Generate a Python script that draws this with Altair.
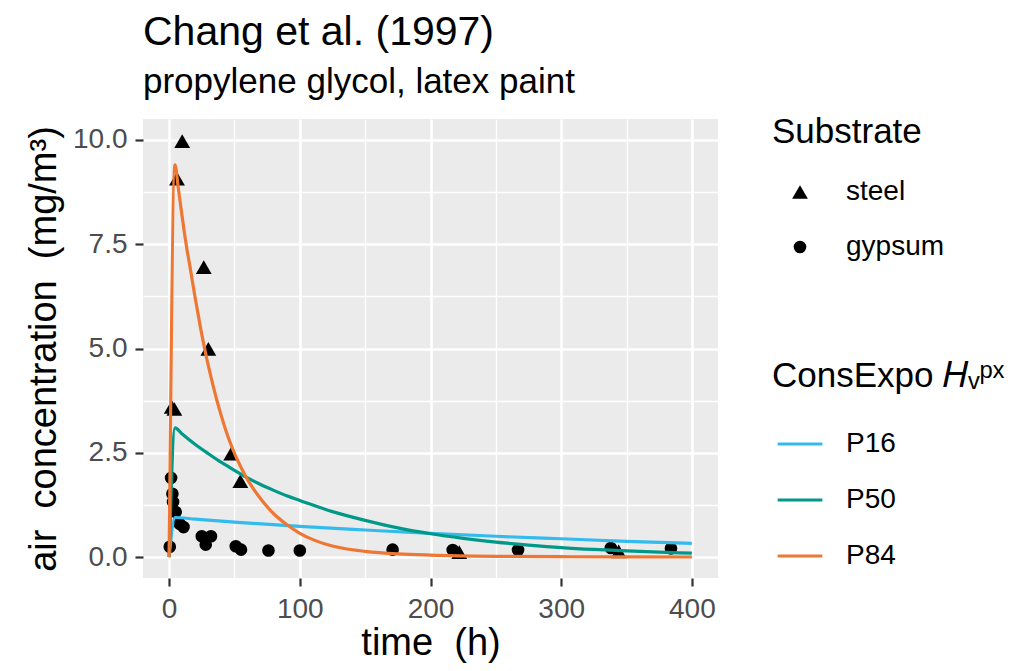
import altair as alt
import pandas as pd

# ---- observations (Chang et al. 1997) ----
steel_t = [2, 4, 6, 10, 26.5, 30, 47.5, 54.5, 222, 344]
steel_c = [3.6, 3.55, 9.07, 9.97, 6.95, 4.99, 2.48, 1.82, 0.12, 0.14]
gypsum_t = [0.5, 1.5, 2.5, 3, 5, 8, 11, 25, 28, 32, 51, 55, 76, 100, 171, 217, 267, 338, 384]
gypsum_c = [0.25, 1.9, 1.52, 1.32, 1.08, 0.8, 0.72, 0.5, 0.3, 0.5, 0.26, 0.18, 0.16, 0.16,
            0.18, 0.17, 0.17, 0.22, 0.21]

# ---- ConsExpo model curves ----
p16_t = [0, 4.5, 20, 50, 100, 150, 200, 250, 300, 350, 400]
p16_c = [0, 0.95, 0.91, 0.84, 0.735, 0.65, 0.57, 0.50, 0.44, 0.38, 0.33]
p50_t = [0, 4.5, 10, 20, 30, 40, 50, 60, 70, 80, 90, 100, 125, 150, 175, 200, 225, 250, 275,
         300, 325, 350, 375, 400]
p50_c = [0, 3.1, 2.95, 2.7, 2.48, 2.27, 2.08, 1.9, 1.74, 1.6, 1.47, 1.36, 1.09, 0.88, 0.70,
         0.56, 0.45, 0.36, 0.29, 0.23, 0.185, 0.15, 0.12, 0.095]
p84_t = [0, 4.5, 7, 10, 13, 16, 20, 24, 28, 32, 36, 40, 44, 48, 53, 58, 64, 70, 80, 90, 100,
         110, 120, 135, 150, 175, 200, 250, 300, 350, 400]
p84_c = [0, 9.4, 8.85, 8.15, 7.5, 6.95, 6.2, 5.5, 4.87, 4.32, 3.82, 3.38, 2.98, 2.64, 2.28,
         1.97, 1.66, 1.4, 1.04, 0.78, 0.57, 0.42, 0.31, 0.2, 0.14, 0.08, 0.05, 0.02, 0.01,
         0.005, 0.003]

series_names = ["P16", "P50", "P84"]
series_colors = ["#33BBEE", "#009988", "#EE7733"]
substrates = ["steel", "gypsum"]
substrate_shapes = ["triangle-up", "circle"]
substrate_sizes = [250, 160]

x_ticks = [0, 50, 100, 150, 200, 250, 300, 350, 400]
y_ticks = [0, 1.25, 2.5, 3.75, 5, 6.25, 7.5, 8.75, 10]

obs = pd.DataFrame({
    "time": steel_t + gypsum_t,
    "conc": steel_c + gypsum_c,
    "substrate": ["steel"] * len(steel_t) + ["gypsum"] * len(gypsum_t),
})
model = pd.DataFrame({
    "time": p16_t + p50_t + p84_t,
    "conc": p16_c + p50_c + p84_c,
    "series": ["P16"] * len(p16_t) + ["P50"] * len(p50_t) + ["P84"] * len(p84_t),
})

FONT = "Liberation Sans"
NB = "\u00a0"

x_axis = alt.Axis(
    values=x_ticks,
    labelExpr="datum.value % 100 === 0 ? format(datum.value, 'd') : ''",
    gridWidth={"condition": {"test": "datum.value % 100 !== 0", "value": 1.3}, "value": 2.6},
    tickOpacity={"condition": {"test": "datum.value % 100 !== 0", "value": 0}, "value": 1},
    labelPadding=9, titlePadding=1, labelOverlap=False,
)
y_axis = alt.Axis(
    values=y_ticks,
    labelExpr="datum.value % 2.5 === 0 ? format(datum.value, '.1f') : ''",
    gridWidth={"condition": {"test": "datum.value % 2.5 !== 0", "value": 1.3}, "value": 2.6},
    tickOpacity={"condition": {"test": "datum.value % 2.5 !== 0", "value": 0}, "value": 1},
    labelPadding=8, titlePadding=9, labelOverlap=False,
)

x_enc = alt.X("time:Q", title=f"time{NB} (h)",
              scale=alt.Scale(domain=[-20, 420], nice=False, zero=False), axis=x_axis)
y_enc = alt.Y("conc:Q", title=f"air{NB} concentration{NB} (mg/m³)",
              scale=alt.Scale(domain=[-0.5, 10.5], nice=False, zero=False), axis=y_axis)


def substrate_legend():
    return alt.Legend(
        title="Substrate", orient="none", legendX=629, legendY=-4,
        symbolFillColor="black", symbolStrokeWidth=0,
        symbolOffset=14, labelOffset=32, titlePadding=28, rowPadding=27,
    )


points = alt.Chart(obs).mark_point(filled=True, opacity=1, color="black", strokeWidth=0).encode(
    x=x_enc,
    y=y_enc,
    shape=alt.Shape("substrate:N",
                    scale=alt.Scale(domain=substrates, range=substrate_shapes),
                    legend=substrate_legend()),
    size=alt.Size("substrate:N",
                  scale=alt.Scale(domain=substrates, range=substrate_sizes),
                  legend=substrate_legend()),
)

lines = alt.Chart(model).mark_line(strokeWidth=3.2, interpolate="monotone").encode(
    x=x_enc,
    y=y_enc,
    color=alt.Color(
        "series:N",
        scale=alt.Scale(domain=series_names, range=series_colors),
        legend=alt.Legend(
            title="ConsExpo 𝐻ᵥᵖˣ", orient="none", legendX=629, legendY=240,
            symbolType="stroke", symbolStrokeWidth=3.2, symbolSize=2000,
            symbolOffset=4, labelOffset=22, titlePadding=26, rowPadding=18,
            titleLimit=400,
        ),
    ),
)

chart = alt.layer(points, lines).properties(
    width=575,
    height=459,
    autosize=alt.AutoSizeParams(type="none"),
    padding={"left": 135, "top": 111, "right": 289, "bottom": 88},
    title=alt.TitleParams(
        text="Chang et al. (1997)",
        subtitle="propylene glycol, latex paint",
        anchor="start", frame="group",
        font=FONT, fontSize=41, fontWeight="normal", color="black",
        subtitleFont=FONT, subtitleFontSize=35, subtitleColor="black",
        subtitlePadding=11, offset=14,
    ),
).configure_view(
    fill="#EBEBEB", stroke=None
).configure_axis(
    labelFont=FONT, titleFont=FONT, labelFontSize=28, titleFontSize=38,
    labelColor="#4D4D4D", titleColor="black", titleFontWeight="normal",
    domain=False, tickColor="#333333", tickWidth=2.2, tickSize=8,
    gridColor="white",
).configure_legend(
    titleFont=FONT, labelFont=FONT, titleFontSize=35, labelFontSize=28,
    titleFontWeight="normal", titleColor="black", labelColor="black",
    titleLimit=400, labelLimit=300,
)

chart.save("out.html", embed_options={"renderer": "svg", "actions": False})
